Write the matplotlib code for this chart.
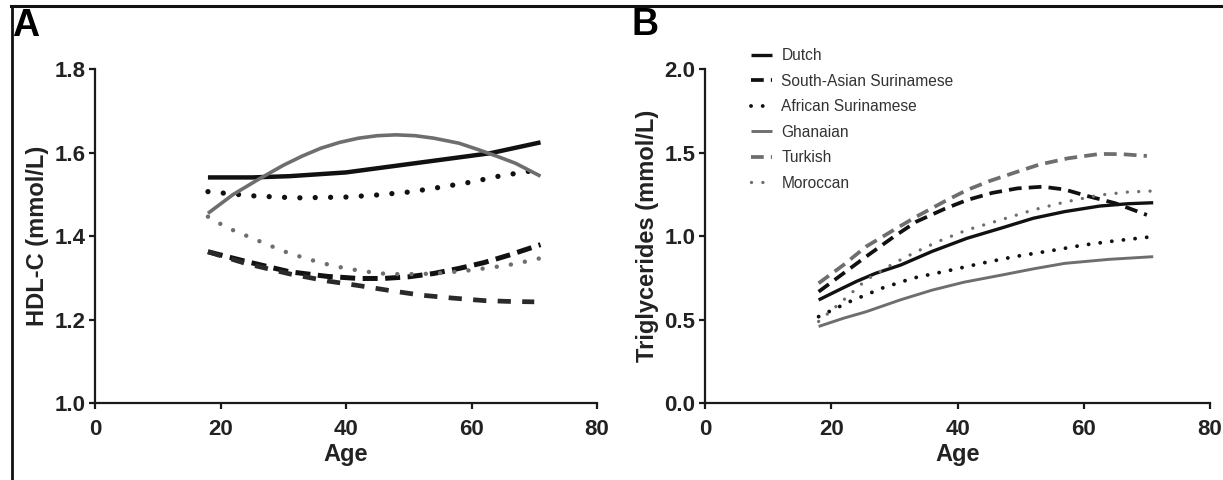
import matplotlib
matplotlib.use("Agg")
import matplotlib.pyplot as plt
from matplotlib.lines import Line2D

plt.rcParams['font.family'] = ['Liberation Sans', 'DejaVu Sans']

# ---- panel A: HDL-C (mmol/L) by age ----
a_dutch_age = [18, 25, 31, 40, 47, 55, 63, 71]
a_dutch = [1.541, 1.541, 1.544, 1.553, 1.567, 1.583, 1.599, 1.625]

a_sas_age = [18, 24, 31, 37, 42, 46, 50, 54, 58, 62, 66, 71]
a_sas = [1.363, 1.340, 1.315, 1.304, 1.299, 1.299, 1.303, 1.311, 1.323, 1.337, 1.355, 1.380]

a_afr_age = [18, 25, 32, 40, 45, 50, 54, 60, 64, 68, 71]
a_afr = [1.507, 1.497, 1.492, 1.494, 1.499, 1.506, 1.515, 1.530, 1.543, 1.553, 1.560]

a_gha_age = [18, 22, 26, 30, 33, 36, 39, 42, 45, 48, 51, 54, 58, 61, 64, 67, 71]
a_gha = [1.455, 1.500, 1.536, 1.570, 1.592, 1.611, 1.625, 1.635, 1.641, 1.643, 1.641, 1.635,
         1.623, 1.608, 1.592, 1.575, 1.544]

a_tur_age = [18, 24, 31, 37, 42, 47, 52, 57, 62, 66, 70]
a_tur = [1.363, 1.335, 1.310, 1.293, 1.282, 1.270, 1.259, 1.252, 1.246, 1.244, 1.243]

a_mor_age = [18, 21, 24.5, 28, 31, 35, 38, 42, 45.5, 49, 52.5, 56, 60, 64, 67, 72]
a_mor = [1.447, 1.421, 1.399, 1.377, 1.359, 1.341, 1.329, 1.318, 1.311, 1.309, 1.310, 1.313,
         1.319, 1.327, 1.334, 1.351]

# ---- panel B: Triglycerides (mmol/L) by age ----
b_dutch_age = [18, 21, 24, 27, 31, 36, 41.5, 47, 52, 57, 62.5, 67, 71]
b_dutch = [0.619, 0.675, 0.730, 0.778, 0.828, 0.910, 0.988, 1.050, 1.108, 1.148, 1.181, 1.195, 1.201]

b_sas_age = [18, 22, 25.5, 30, 33.5, 38, 41.5, 45.5, 49.5, 53.5, 57, 60, 65, 70]
b_sas = [0.668, 0.780, 0.878, 1.000, 1.088, 1.165, 1.217, 1.260, 1.287, 1.297, 1.280, 1.247, 1.198, 1.128]

b_afr_age = [18, 23, 28, 33, 39, 44, 49, 55, 60, 65, 70]
b_afr = [0.519, 0.610, 0.689, 0.750, 0.798, 0.840, 0.878, 0.915, 0.948, 0.973, 0.994]

b_gha_age = [18, 22, 25.5, 31, 36, 41, 47, 52, 57, 64, 71]
b_gha = [0.460, 0.510, 0.548, 0.620, 0.678, 0.725, 0.768, 0.805, 0.838, 0.862, 0.878]

b_tur_age = [18, 22, 25.5, 30, 33.5, 38, 41.5, 45, 49.5, 53, 57.5, 62.5, 66, 70]
b_tur = [0.719, 0.830, 0.938, 1.040, 1.118, 1.210, 1.277, 1.330, 1.387, 1.430, 1.467, 1.493, 1.492, 1.481]

b_mor_age = [18, 22, 25.5, 30, 33.5, 37, 41.5, 47, 52, 57, 62.5, 67, 72]
b_mor = [0.490, 0.620, 0.738, 0.840, 0.908, 0.970, 1.038, 1.100, 1.158, 1.205, 1.247, 1.265, 1.273]

labels = ['Dutch', 'South-Asian Surinamese', 'African Surinamese', 'Ghanaian', 'Turkish', 'Moroccan']

W, H = 1223, 480
fig = plt.figure(figsize=(W / 100, H / 100), dpi=100)
fig.patch.set_facecolor('white')

axA = fig.add_axes([95 / W, 1 - 403.3 / H, 502 / W, 334 / H])
axB = fig.add_axes([705 / W, 1 - 403.3 / H, 505 / W, 334 / H])

GRAY = '#6e6e6e'
BLK = '#111111'

# panel A (thick lines)
axA.plot(a_dutch_age, a_dutch, color=BLK, lw=3.2, solid_capstyle='butt')
axA.plot(a_sas_age, a_sas, color=BLK, lw=3.6, linestyle=(0, (3.0, 1.5)))
axA.plot(a_afr_age, a_afr, color=BLK, lw=3.8, linestyle=(0, (0.01, 2.9)), dash_capstyle='round')
axA.plot(a_gha_age, a_gha, color=GRAY, lw=2.6, solid_capstyle='butt')
axA.plot(a_tur_age, a_tur, color='#2a2a2a', lw=3.4, linestyle=(0, (2.8, 2.4)))
axA.plot(a_mor_age, a_mor, color=GRAY, lw=3.2, linestyle=(0, (0.01, 3.2)), dash_capstyle='round')

# panel B
lB = []
lB += axB.plot(b_dutch_age, b_dutch, color=BLK, lw=2.4, solid_capstyle='butt')
lB += axB.plot(b_sas_age, b_sas, color=BLK, lw=2.7, linestyle=(0, (3.4, 1.9)))
lB += axB.plot(b_afr_age, b_afr, color=BLK, lw=2.8, linestyle=(0, (0.01, 3.0)), dash_capstyle='round')
lB += axB.plot(b_gha_age, b_gha, color=GRAY, lw=2.1, solid_capstyle='butt')
lB += axB.plot(b_tur_age, b_tur, color=GRAY, lw=2.7, linestyle=(0, (3.4, 1.9)))
lB += axB.plot(b_mor_age, b_mor, color=GRAY, lw=2.4, linestyle=(0, (0.01, 3.4)), dash_capstyle='round')

for ax, ylim, yt, ylab in [(axA, (1.0, 1.8), [1.0, 1.2, 1.4, 1.6, 1.8], 'HDL-C (mmol/L)'),
                           (axB, (0.0, 2.0), [0.0, 0.5, 1.0, 1.5, 2.0], 'Triglycerides (mmol/L)')]:
    ax.set_xlim(0, 80)
    ax.set_ylim(*ylim)
    ax.set_xticks([0, 20, 40, 60, 80])
    ax.set_yticks(yt)
    ax.set_yticklabels(['%.1f' % v for v in yt])
    for s in ['top', 'right']:
        ax.spines[s].set_visible(False)
    for s in ['left', 'bottom']:
        ax.spines[s].set_linewidth(1.6)
        ax.spines[s].set_color('#1a1a1a')
    ax.tick_params(direction='out', length=4.5, width=1.6, color='#1a1a1a')
    ax.tick_params(axis='x', pad=7, labelsize=16)
    ax.tick_params(axis='y', pad=2.5, labelsize=16)
    for t in ax.get_xticklabels() + ax.get_yticklabels():
        t.set_fontweight('bold')
        t.set_color('#222222')
    ax.set_xlabel('Age', fontsize=17, fontweight='bold', color='#222222')
    ax.set_ylabel(ylab, fontsize=17, fontweight='bold', color='#222222')
    ax.xaxis.set_label_coords(0.5, -0.12)
    ax.yaxis.set_label_coords(-0.092, 0.5)
    ax.patch.set_visible(False)

leg = axB.legend(lB, labels, loc='upper left', bbox_to_anchor=(737 / W, 1 - 34 / H),
                 bbox_transform=fig.transFigure, frameon=False, fontsize=11.2,
                 handlelength=1.35, handletextpad=0.6, labelspacing=0.68, borderpad=0.4)
for t in leg.get_texts():
    t.set_color('#333333')

# panel letters
fig.text(12 / W, 1 - 36 / H, 'A', fontsize=27, fontweight='bold', va='baseline', ha='left')
fig.text(631 / W, 1 - 35 / H, 'B', fontsize=27, fontweight='bold', va='baseline', ha='left')

# outer frame (top and left)
fig.add_artist(Line2D([11 / W, 1.0], [1 - 6 / H, 1 - 6 / H], transform=fig.transFigure,
                      color='#111111', lw=2.2))
fig.add_artist(Line2D([11.5 / W, 11.5 / W], [0.0, 1 - 6 / H], transform=fig.transFigure,
                      color='#111111', lw=2.0))

fig.savefig('out.png', dpi=100, facecolor='white')
